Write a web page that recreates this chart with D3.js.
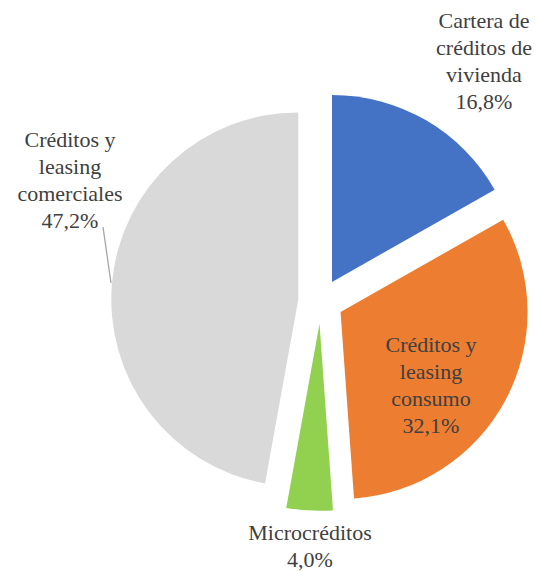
<!DOCTYPE html>
<html>
<head>
<meta charset="utf-8">
<script src="https://cdn.jsdelivr.net/npm/d3@7"></script>
</head>
<body style="margin:0">
<script>
/* data */
var categories = ["Cartera de créditos de vivienda", "Créditos y leasing consumo", "Microcréditos", "Créditos y leasing comerciales"];
var values = [16.8, 32.1, 4.0, 47.2];
var labelLines = [
    ["Cartera de", "créditos de", "vivienda"],
    ["Créditos y", "leasing", "consumo"],
    ["Microcréditos"],
    ["Créditos y", "leasing", "comerciales"]
];
var colors = ["#4472C4", "#ED7D31", "#92D050", "#D9D9D9"];

/* layout */
var width = 535, height = 571;
var radius = 187, explode = 22.5;
var cx = 320.7, cy = 301.4;
// label anchor (x, y of first baseline)
var labelPos = [[484, 28], [431, 352], [310, 540], [70, 147]];
var lineHeight = 27;

var svg = d3.select("body")
    .append("svg")
    .attr("width", width)
    .attr("height", height);

var g = svg.append("g")
    .attr("transform", "translate(" + cx + "," + cy + ")");

var pie = d3.pie().sort(null).value(function (d) { return d; });
var arc = d3.arc().innerRadius(0).outerRadius(radius);

g.selectAll("path")
    .data(pie(values))
    .enter()
    .append("path")
    .attr("fill", function (d, i) { return colors[i]; })
    .attr("transform", function (d) {
        var a = (d.startAngle + d.endAngle) / 2;
        return "translate(" + (explode * Math.sin(a)) + "," + (-explode * Math.cos(a)) + ")";
    })
    .attr("d", arc);

// leader line for the big slice
svg.append("line")
    .attr("x1", 103).attr("y1", 227)
    .attr("x2", 111).attr("y2", 283)
    .attr("stroke", "#A6A6A6")
    .attr("stroke-width", 1.3);

function fmt(v) { return d3.format(".1f")(v).replace(".", ",") + "%"; }

labelLines.forEach(function (lines, i) {
    lines.concat([fmt(values[i])]).forEach(function (s, j) {
        svg.append("text")
            .attr("x", labelPos[i][0])
            .attr("y", labelPos[i][1] + j * lineHeight)
            .attr("text-anchor", "middle")
            .attr("fill", "#404040")
            .attr("font-family", "Liberation Serif")
            .attr("font-size", 22)
            .text(s);
    });
});
</script>
</body>
</html>
